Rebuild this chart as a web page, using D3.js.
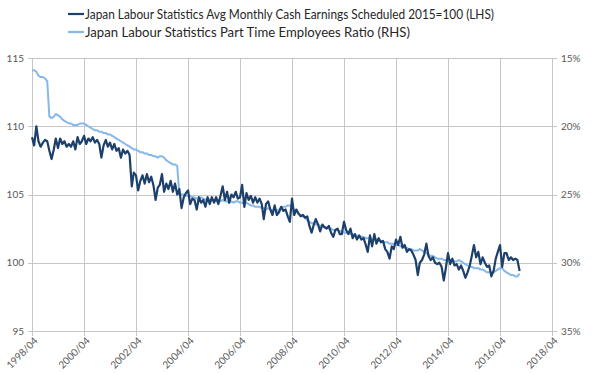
<!DOCTYPE html>
<html>
<head>
<meta charset="utf-8">
<script src="https://cdn.jsdelivr.net/npm/d3@7"></script>
<style>
  body { margin: 0; background: #fff; }
  svg { display: block; font-family: Lato, "Liberation Sans", sans-serif; }
</style>
</head>
<body>
<div id="chart"></div>
<script>
// monthly series, first value is 1998/04
const startYear = 1998, startMonth = 4;

// Avg monthly cash earnings, scheduled, 2015=100 (LHS)
const earnings = [
  /*1998*/ 109.2, 108.6, 110.0, 108.9, 108.5, 108.8, 109.0, 108.9, 108.2,
  /*1999*/ 107.6, 108.3, 109.1, 108.4, 109.1, 108.7, 108.9, 108.5, 108.7, 108.5, 108.9, 108.3,
  /*2000*/ 109.2, 108.7, 108.9, 109.3, 108.7, 109.1, 108.9, 109.2, 108.8, 109.0, 108.7, 107.7,
  /*2001*/ 108.6, 109.0, 108.5, 108.8, 108.3, 108.7, 108.2, 108.4, 107.7, 108.3, 108.0, 108.2,
  /*2002*/ 107.9, 105.6, 106.6, 106.4, 105.3, 106.0, 106.4, 105.8, 106.5, 105.9, 106.3, 105.7,
  /*2003*/ 104.6, 105.5, 105.7, 106.5, 105.2, 105.8, 105.4, 106.0, 105.2, 105.8, 105.0, 105.4,
  /*2004*/ 104.0, 104.8, 105.1, 105.3, 104.3, 104.7, 104.6, 103.9, 104.8, 104.4, 104.6, 104.1,
  /*2005*/ 104.8, 104.3, 104.8, 104.4, 104.8, 104.3, 104.9, 105.6, 104.6, 105.2, 104.4, 105.0,
  /*2006*/ 104.8, 105.2, 104.7, 104.8, 105.7, 104.1, 105.1, 104.6, 104.9, 104.4, 104.8, 104.4,
  /*2007*/ 104.7, 104.3, 103.2, 104.3, 104.5, 103.9, 103.5, 104.2, 103.5, 103.7, 104.1, 103.8,
  /*2008*/ 103.9, 103.4, 103.0, 104.7, 103.5, 103.9, 103.6, 103.4, 103.5, 103.3, 103.4, 102.7,
  /*2009*/ 102.2, 102.8, 103.2, 102.8, 102.3, 102.8, 102.6, 102.5, 102.7, 102.2, 101.9, 102.4,
  /*2010*/ 102.5, 102.1, 102.1, 103.0, 102.4, 102.1, 102.5, 101.8, 102.1, 101.7, 102.0, 101.7,
  /*2011*/ 101.8, 101.3, 100.8, 102.0, 101.2, 102.1, 101.4, 101.8, 101.5, 101.6, 101.0, 100.8,
  /*2012*/ 100.3, 101.2, 101.0, 101.7, 101.3, 101.9, 101.1, 101.3, 100.8, 101.0, 100.9, 100.6,
  /*2013*/ 100.2, 99.1, 100.0, 100.2, 100.6, 101.4, 100.5, 100.2, 100.4, 100.0, 99.9, 100.0,
  /*2014*/ 99.7, 98.7, 99.6, 100.7, 99.9, 100.3, 99.8, 99.9, 99.5, 99.8, 99.4, 98.9,
  /*2015*/ 99.3, 99.8, 100.5, 101.3, 100.4, 100.8, 99.9, 100.4, 100.0, 99.7, 99.8, 99.0,
  /*2016*/ 99.4, 100.3, 100.8, 101.3, 99.7, 100.7, 100.7, 100.2, 100.4, 100.2, 100.3, 100.2,
  /*2017*/ 99.4
];

// Part time employees ratio, % (RHS, inverted)
const partTime = [
  /*1998*/ 15.9, 15.9, 16.0, 16.3, 16.4, 16.4, 16.5, 16.7, 19.3,
  /*1999*/ 19.4, 19.3, 19.1, 19.2, 19.3, 19.5, 19.6, 19.7, 19.8, 19.8, 19.9, 19.9,
  /*2000*/ 19.9, 19.8, 19.8, 19.8, 19.9, 20.0, 20.1, 20.2, 20.3, 20.3, 20.4, 20.4,
  /*2001*/ 20.5, 20.5, 20.6, 20.6, 20.7, 20.8, 20.9, 21.0, 21.1, 21.2, 21.3, 21.4,
  /*2002*/ 21.5, 21.6, 21.7, 21.7, 21.8, 21.9, 21.9, 22.0, 22.0, 22.1, 22.1, 22.2,
  /*2003*/ 22.2, 22.3, 22.2, 22.2, 22.3, 22.5, 22.6, 22.7, 22.8, 22.8, 22.9, 25.0,
  /*2004*/ 25.0, 25.0, 25.1, 25.1, 25.1, 25.2, 25.2, 25.3, 25.3, 25.2, 25.3, 25.4,
  /*2005*/ 25.3, 25.4, 25.4, 25.4, 25.5, 25.4, 25.5, 25.4, 25.5, 25.5, 25.6, 25.5,
  /*2006*/ 25.6, 25.5, 25.5, 25.6, 25.6, 25.7, 25.6, 25.7, 25.8, 25.8, 25.9, 25.9,
  /*2007*/ 25.9, 26.0, 26.0, 26.1, 26.0, 26.1, 26.2, 26.1, 26.2, 26.1, 26.0, 25.9,
  /*2008*/ 25.9, 25.8, 25.8, 25.9, 26.1, 26.2, 26.4, 26.5, 26.6, 26.7, 26.9, 27.0,
  /*2009*/ 27.1, 27.1, 27.2, 27.2, 27.3, 27.3, 27.4, 27.4, 27.5, 27.5, 27.6, 27.6,
  /*2010*/ 27.6, 27.7, 27.7, 27.8, 27.8, 27.8, 27.9, 27.9, 28.0, 28.0, 28.1, 28.1,
  /*2011*/ 28.1, 28.2, 28.2, 28.2, 28.3, 28.3, 28.3, 28.4, 28.4, 28.5, 28.5, 28.5,
  /*2012*/ 28.6, 28.6, 28.6, 28.7, 28.7, 28.8, 28.8, 28.9, 28.9, 29.0, 29.0, 29.1,
  /*2013*/ 29.1, 29.1, 29.0, 29.1, 29.2, 29.3, 29.4, 29.5, 29.5, 29.6, 29.7, 29.7,
  /*2014*/ 29.7, 29.8, 29.8, 29.7, 29.8, 29.8, 29.9, 29.9, 29.8, 29.9, 30.0, 30.1,
  /*2015*/ 30.2, 30.3, 30.3, 30.4, 30.4, 30.4, 30.5, 30.5, 30.6, 30.7, 30.7, 30.7,
  /*2016*/ 30.7, 30.6, 30.5, 30.4, 30.4, 30.6, 30.7, 30.8, 30.9, 30.9, 31.0, 31.0,
  /*2017*/ 30.8
];

const leftTicks = [95, 100, 105, 110, 115];
const rightTicks = [15, 20, 25, 30, 35];
const xTickYears = [1998, 2000, 2002, 2004, 2006, 2008, 2010, 2012, 2014, 2016, 2018];

const seriesNames = [
  'Japan Labour Statistics Avg Monthly Cash Earnings Scheduled 2015=100 (LHS)',
  'Japan Labour Statistics Part Time Employees Ratio (RHS)'
];
const darkBlue = '#1c406b';
const lightBlue = '#86b8ea';

const width = 600, height = 373;
const margin = { top: 58, right: 48, bottom: 42, left: 32 };

const svg = d3.select('#chart').append('svg')
  .attr('width', width)
  .attr('height', height);

const monthDate = i => new Date(startYear, startMonth - 1 + i, 1);

const x = d3.scaleTime()
  .domain([new Date(1998, 3, 1), new Date(2018, 3, 1)])
  .range([margin.left, width - margin.right]);
const yL = d3.scaleLinear().domain([95, 115]).range([height - margin.bottom, margin.top]);
const yR = d3.scaleLinear().domain([35, 15]).range([height - margin.bottom, margin.top]);

const gridColor = '#c6c6c6';
const textColor = '#595959';
const x0 = margin.left, x1 = width - margin.right;

// horizontal gridlines (stick out a little past both axes, like ticks)
svg.append('g').selectAll('line')
  .data(leftTicks)
  .join('line')
  .attr('x1', x0 - 4).attr('x2', x1 + 5)
  .attr('y1', d => Math.round(yL(d)) + 0.5)
  .attr('y2', d => Math.round(yL(d)) + 0.5)
  .attr('stroke', gridColor);

// vertical gridlines
const xTickDates = xTickYears.map(yr => new Date(yr, 3, 1));
svg.append('g').selectAll('line')
  .data(xTickDates)
  .join('line')
  .attr('x1', d => Math.round(x(d)) + 0.5)
  .attr('x2', d => Math.round(x(d)) + 0.5)
  .attr('y1', margin.top)
  .attr('y2', height - margin.bottom + 5)
  .attr('stroke', gridColor);

// right axis line
svg.append('line')
  .attr('x1', Math.round(x1) + 0.5).attr('x2', Math.round(x1) + 0.5)
  .attr('y1', margin.top).attr('y2', height - margin.bottom)
  .attr('stroke', gridColor);

// left tick labels
svg.append('g').selectAll('text')
  .data(leftTicks)
  .join('text')
  .attr('x', x0 - 8)
  .attr('y', d => yL(d))
  .attr('dy', '0.35em')
  .attr('text-anchor', 'end')
  .style('font-size', '10px')
  .style('fill', textColor)
  .text(d => d);

// right tick labels
svg.append('g').selectAll('text')
  .data(rightTicks)
  .join('text')
  .attr('x', x1 + 9)
  .attr('y', d => yR(d))
  .attr('dy', '0.35em')
  .style('font-size', '10px')
  .style('fill', textColor)
  .text(d => d + '%');

// x tick labels, rotated
const fmt = d3.timeFormat('%Y/%m');
svg.append('g').selectAll('text')
  .data(xTickDates)
  .join('text')
  .attr('transform', d => `translate(${x(d) + 4},${height - margin.bottom + 8}) rotate(-45)`)
  .attr('text-anchor', 'end')
  .attr('dy', '0.35em')
  .style('font-size', '10px')
  .style('fill', textColor)
  .text(d => fmt(d));

// lines
const lineL = d3.line()
  .x((d, i) => x(monthDate(i)))
  .y(d => yL(d));
const lineR = d3.line()
  .x((d, i) => x(monthDate(i)))
  .y(d => yR(d));

svg.append('path')
  .datum(partTime)
  .attr('d', lineR)
  .attr('fill', 'none')
  .attr('stroke', lightBlue)
  .attr('stroke-width', 2)
  .attr('stroke-linejoin', 'round');

svg.append('path')
  .datum(earnings)
  .attr('d', lineL)
  .attr('fill', 'none')
  .attr('stroke', darkBlue)
  .attr('stroke-width', 2.2)
  .attr('stroke-linejoin', 'round');

// legend
const legendWidths = [409, 325];
const legend = svg.append('g');
seriesNames.forEach((name, i) => {
  const ly = 14 + i * 18;
  legend.append('line')
    .attr('x1', 68).attr('x2', 84)
    .attr('y1', ly).attr('y2', ly)
    .attr('stroke', i === 0 ? darkBlue : lightBlue)
    .attr('stroke-width', 2.2);
  legend.append('text')
    .attr('x', 85)
    .attr('y', ly + 5)
    .attr('textLength', legendWidths[i])
    .attr('lengthAdjust', 'spacingAndGlyphs')
    .style('font-size', '14px')
    .style('fill', '#262626')
    .text(name);
});
</script>
</body>
</html>
